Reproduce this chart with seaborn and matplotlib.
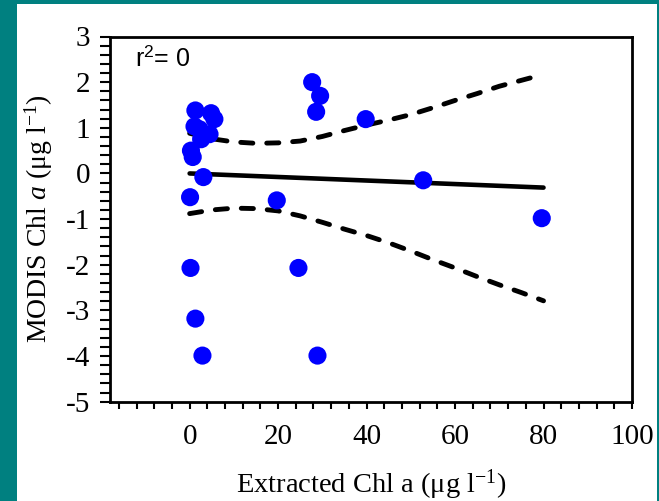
import numpy as np
import pandas as pd
import matplotlib
matplotlib.use("Agg")
import matplotlib.pyplot as plt
from matplotlib.patches import Rectangle
from matplotlib.ticker import MultipleLocator
import seaborn as sns

# ---- data ----
extracted_chl = [1.3, 4.85, 5.6, 1.1, 2.2, 4.5, 2.6, 0.3, 0.7, 3.1, 0.1, 19.7,
                 27.7, 29.5, 28.6, 39.8, 52.8, 79.6, 0.2, 1.3, 2.9, 24.6, 28.9]
modis_chl = [1.38, 1.32, 1.19, 1.03, 0.97, 0.86, 0.75, 0.50, 0.36, -0.08, -0.52, -0.59,
             2.00, 1.70, 1.35, 1.19, -0.15, -0.98, -2.07, -3.18, -3.99, -2.07, -3.99]

fit_x = [0, 80]
fit_y = [0.0, -0.31]

band_x = [0, 5, 10, 15, 20, 25, 30, 35, 40, 45, 50, 55, 60, 65, 70, 75, 80]
band_upper = [0.88, 0.76, 0.69, 0.66, 0.67, 0.71, 0.81, 0.94, 1.06, 1.17, 1.29,
              1.44, 1.60, 1.75, 1.91, 2.04, 2.17]
band_lower = [-0.88, -0.80, -0.76, -0.77, -0.82, -0.93, -1.07, -1.22, -1.36, -1.52,
              -1.70, -1.89, -2.07, -2.26, -2.44, -2.61, -2.79]

x_tick_labels = [0, 20, 40, 60, 80, 100]
y_tick_labels = [-5, -4, -3, -2, -1, 0, 1, 2, 3]

# ---- style ----
sns.set_theme(style="white")
plt.rcParams["font.family"] = ["Liberation Serif", "DejaVu Serif"]
plt.rcParams["mathtext.fontset"] = "custom"
plt.rcParams["mathtext.rm"] = "Liberation Serif"
plt.rcParams["mathtext.it"] = "Liberation Serif:italic"
plt.rcParams["mathtext.bf"] = "Liberation Serif:bold"

fig = plt.figure(figsize=(6.59, 5.01), dpi=100)
fig.patch.set_facecolor("#008080")
fig.add_artist(Rectangle((16.7 / 659, 0), (656.5 - 16.7) / 659, 497 / 501,
                         transform=fig.transFigure, facecolor="white",
                         edgecolor="none", zorder=0))

ax = fig.add_axes([110 / 659, 1 - 401.7 / 501, (632 - 110) / 659, (401.7 - 36.5) / 501])
ax.set_facecolor("white")

df_pts = pd.DataFrame({"x": extracted_chl, "y": modis_chl})
df_fit = pd.DataFrame({"x": fit_x, "y": fit_y})
df_up = pd.DataFrame({"x": band_x, "y": band_upper})
df_lo = pd.DataFrame({"x": band_x, "y": band_lower})

for d in (df_up, df_lo):
    sns.lineplot(data=d, x="x", y="y", ax=ax, color="black", linewidth=3.5,
                 zorder=2, estimator=None, sort=True)
    ln = ax.lines[-1]
    ln.set_dashes((2.5, 2.85))
    ln.set_dash_capstyle("round")
sns.lineplot(data=df_fit, x="x", y="y", ax=ax, color="black", linewidth=3.3,
             zorder=2, estimator=None)
ax.lines[-1].set_solid_capstyle("round")
sns.scatterplot(data=df_pts, x="x", y="y", ax=ax, color="#0000FF", s=170,
                edgecolor="none", linewidth=0, zorder=3)

ax.set_xlim(-18, 100)
ax.set_ylim(-5, 3)
ax.set_xticks(x_tick_labels)
ax.set_xticklabels([str(v) for v in x_tick_labels])
ax.xaxis.set_minor_locator(MultipleLocator(4))
ax.set_yticks(y_tick_labels)
ax.set_yticklabels([str(v) for v in y_tick_labels])
ax.yaxis.set_minor_locator(MultipleLocator(0.2))

for s in ax.spines.values():
    s.set_visible(True)
    s.set_color("black")
    s.set_linewidth(2)

ax.tick_params(axis="x", which="both", direction="out", length=5, width=1.5,
               color="black", bottom=True, top=False)
ax.tick_params(axis="x", which="major", labelsize=21, pad=11, labelcolor="black")
ax.tick_params(axis="y", which="both", direction="out", length=7, width=1.5,
               color="black", left=True, right=False)
ax.tick_params(axis="y", which="major", labelsize=21, pad=7, labelcolor="black")

ax.set_xlabel(r"Extracted Chl a ($\mathregular{\mu}$g l$^{\mathregular{-1}}$)",
              fontsize=20.5, color="black", labelpad=13)
ax.set_ylabel(r"MODIS Chl $\mathit{a}$ ($\mathregular{\mu}$g l$^{\mathregular{-1}}$)",
              fontsize=20, color="black", labelpad=8)

ax.text(0.048, 0.94, r"r$^{\mathregular{2}}$= 0", transform=ax.transAxes, fontsize=18,
        family=["Liberation Sans", "DejaVu Sans"], color="black", va="center", ha="left")

fig.savefig("out.png", dpi=100, facecolor=fig.get_facecolor())
